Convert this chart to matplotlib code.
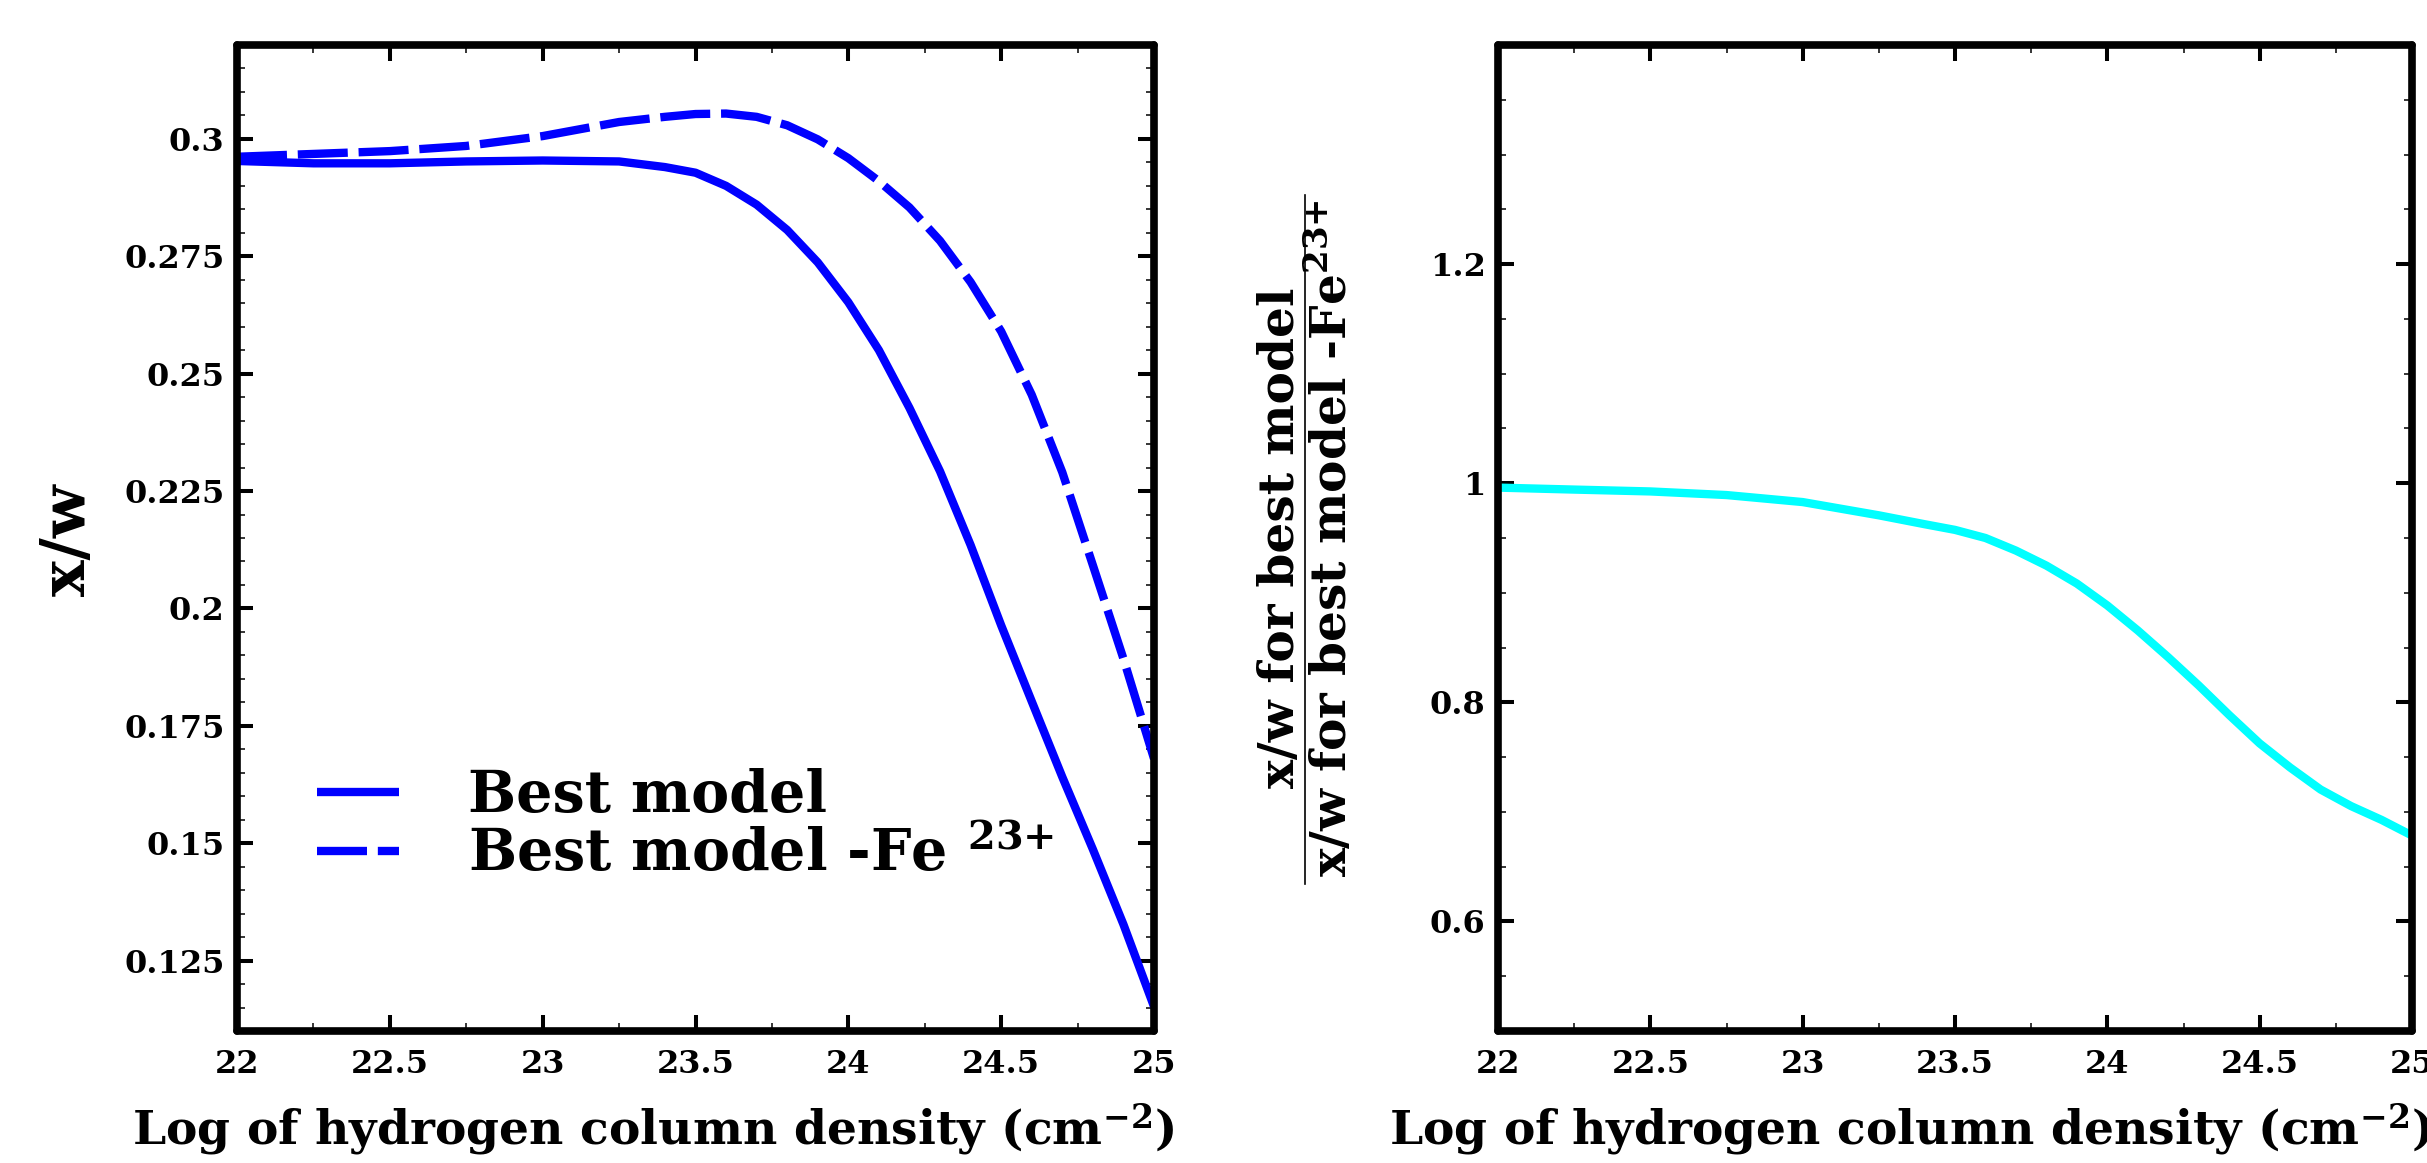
import matplotlib
matplotlib.use("Agg")
import matplotlib.pyplot as plt
from matplotlib.ticker import MultipleLocator, FixedLocator, FixedFormatter
from matplotlib.lines import Line2D

plt.rcParams['font.family'] = ['DejaVu Serif']
plt.rcParams['font.weight'] = 'bold'
plt.rcParams['mathtext.fontset'] = 'dejavuserif'

# ---------------- data ----------------
log_nh = [22.0, 22.25, 22.5, 22.75, 23.0, 23.25, 23.4, 23.5, 23.6, 23.7, 23.8,
          23.9, 24.0, 24.1, 24.2, 24.3, 24.4, 24.5, 24.6, 24.7, 24.8, 24.9, 25.0]
xw_best = [0.2953, 0.2948, 0.2948, 0.2952, 0.2954, 0.2952, 0.2940, 0.2928, 0.2900,
           0.2860, 0.2806, 0.2737, 0.2652, 0.2550, 0.2427, 0.2292, 0.2135, 0.1964,
           0.1802, 0.1641, 0.1487, 0.1327, 0.1152]
xw_no_fe23 = [0.2962, 0.2968, 0.2974, 0.2985, 0.3006, 0.3036, 0.3047, 0.3053, 0.3054,
              0.3047, 0.3029, 0.2999, 0.2959, 0.2910, 0.2854, 0.2783, 0.2695, 0.2590,
              0.2455, 0.2290, 0.2092, 0.1893, 0.1680]
ratio = [0.9960, 0.9942, 0.9925, 0.9892, 0.9828, 0.9707, 0.9626, 0.9574, 0.9500,
         0.9385, 0.9248, 0.9084, 0.8884, 0.8656, 0.8411, 0.8154, 0.7884, 0.7625,
         0.7405, 0.7204, 0.7053, 0.6927, 0.6784]

x_ticks = [22, 22.5, 23, 23.5, 24, 24.5, 25]
x_ticklabels = ["22", "22.5", "23", "23.5", "24", "24.5", "25"]
y1_ticks = [0.125, 0.15, 0.175, 0.2, 0.225, 0.25, 0.275, 0.3]
y1_ticklabels = ["0.125", "0.15", "0.175", "0.2", "0.225", "0.25", "0.275", "0.3"]
y2_ticks = [0.6, 0.8, 1.0, 1.2]
y2_ticklabels = ["0.6", "0.8", "1", "1.2"]

legend_labels = ["Best model", "Best model -Fe $^{\\mathbf{23{+}}}$"]
xlabel = "Log of hydrogen column density (cm$^{\\mathbf{-2}}$)"

# ---------------- figure ----------------
W, H = 2427, 1163
fig = plt.figure(figsize=(W / 100, H / 100), dpi=100)
ax1 = fig.add_axes([237 / W, 1 - 1031 / H, (1154 - 237) / W, (1031 - 45) / H])
ax2 = fig.add_axes([1498 / W, 1 - 1031 / H, (2412 - 1498) / W, (1031 - 45) / H])

blue = '#0000ff'
cyan = '#00ffff'

l1, = ax1.plot(log_nh, xw_best, color=blue, lw=6, solid_capstyle='butt',
               solid_joinstyle='round')
l2, = ax1.plot(log_nh, xw_no_fe23, color=blue, lw=6, linestyle=(0, (6, 1.3)),
               dash_capstyle='butt', dash_joinstyle='round')
ax2.plot(log_nh, ratio, color=cyan, lw=6, solid_capstyle='butt', solid_joinstyle='round')

ax1.set_xlim(22, 25)
ax1.set_ylim(0.11, 0.32)
ax2.set_xlim(22, 25)
ax2.set_ylim(0.5, 1.4)

for ax in (ax1, ax2):
    for sp in ax.spines.values():
        sp.set_linewidth(5.5)
        sp.set_capstyle('round')
    ax.xaxis.set_major_locator(FixedLocator(x_ticks))
    ax.xaxis.set_major_formatter(FixedFormatter(x_ticklabels))
    ax.xaxis.set_minor_locator(MultipleLocator(0.25))
    ax.tick_params(which='both', direction='in', top=True, right=True)
    ax.tick_params(which='major', length=11.5, width=2.9, labelsize=23)
    ax.tick_params(which='minor', length=5.5, width=1.1)
    ax.tick_params(axis='x', which='major', pad=13)
    ax.tick_params(axis='y', which='major', pad=9)

ax1.yaxis.set_major_locator(FixedLocator(y1_ticks))
ax1.yaxis.set_major_formatter(FixedFormatter(y1_ticklabels))
ax1.yaxis.set_minor_locator(MultipleLocator(0.005))
ax2.yaxis.set_major_locator(FixedLocator(y2_ticks))
ax2.yaxis.set_major_formatter(FixedFormatter(y2_ticklabels))
ax2.yaxis.set_minor_locator(MultipleLocator(0.05))
for ax in (ax1, ax2):
    for lab in ax.get_xticklabels() + ax.get_yticklabels():
        lab.set_fontweight('bold')

# legend
leg = ax1.legend([l1, l2], legend_labels, loc='lower left',
                 bbox_to_anchor=(0.087, 0.15), frameon=False,
                 prop={'family': 'DejaVu Serif', 'weight': 'bold', 'size': 41},
                 handlelength=1.45, handletextpad=1.2, labelspacing=0.05,
                 borderpad=0, borderaxespad=0)

# axis labels
fig.text(132 / W, 1 - 1130 / H, xlabel, ha='left', va='center', fontsize=34,
         fontweight='bold')
fig.text(1389 / W, 1 - 1130 / H, xlabel, ha='left', va='center', fontsize=34,
         fontweight='bold')
fig.text(68 / W, 1 - 540 / H, "x/w", rotation=90, ha='center', va='center',
         fontsize=44, fontweight='bold')

# fraction label on the right panel
fig.text(1281 / W, 1 - 538 / H, "x/w for best model", rotation=90, ha='center',
         va='center', fontsize=35, fontweight='bold')
fig.text(1331 / W, 1 - 538 / H, "x/w for best model -Fe$^{\\mathbf{23{+}}}$",
         rotation=90, ha='center', va='center', fontsize=35, fontweight='bold')
fig.add_artist(Line2D([1305 / W, 1305 / W], [1 - 884 / H, 1 - 195 / H],
                      transform=fig.transFigure, color='black', lw=1.2))

fig.savefig("out.png", dpi=100)
